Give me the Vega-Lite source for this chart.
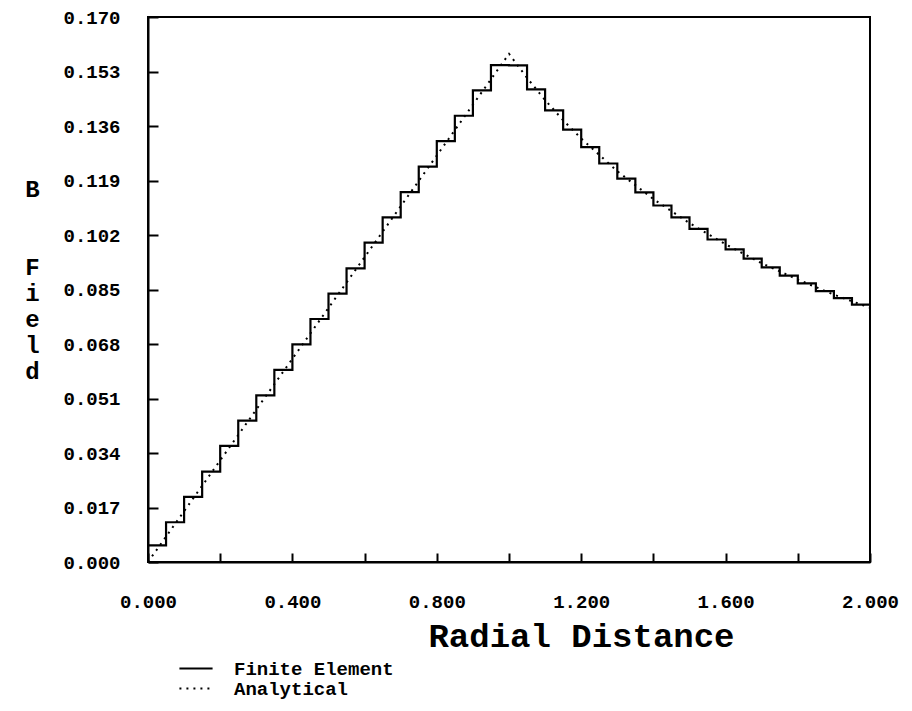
{
  "$schema": "https://vega.github.io/schema/vega-lite/v6.json",
  "width": 722,
  "height": 545,
  "autosize": {"type": "none"},
  "padding": {"left": 148, "top": 17, "right": 42, "bottom": 149},
  "background": "white",
  "config": {
    "view": {"stroke": "black", "strokeWidth": 2},
    "font": "Liberation Mono"
  },
  "datasets": {
    "fe": [
      {"series": "Finite Element", "r": 0.0, "b": 0.0052},
      {"series": "Finite Element", "r": 0.05, "b": 0.0124},
      {"series": "Finite Element", "r": 0.1, "b": 0.0203},
      {"series": "Finite Element", "r": 0.15, "b": 0.0282},
      {"series": "Finite Element", "r": 0.2, "b": 0.0362},
      {"series": "Finite Element", "r": 0.25, "b": 0.0441},
      {"series": "Finite Element", "r": 0.3, "b": 0.052},
      {"series": "Finite Element", "r": 0.35, "b": 0.0599},
      {"series": "Finite Element", "r": 0.4, "b": 0.0679},
      {"series": "Finite Element", "r": 0.45, "b": 0.0758},
      {"series": "Finite Element", "r": 0.5, "b": 0.0837},
      {"series": "Finite Element", "r": 0.55, "b": 0.0916},
      {"series": "Finite Element", "r": 0.6, "b": 0.0996},
      {"series": "Finite Element", "r": 0.65, "b": 0.1075},
      {"series": "Finite Element", "r": 0.7, "b": 0.1154},
      {"series": "Finite Element", "r": 0.75, "b": 0.1233},
      {"series": "Finite Element", "r": 0.8, "b": 0.1313},
      {"series": "Finite Element", "r": 0.85, "b": 0.1392},
      {"series": "Finite Element", "r": 0.9, "b": 0.1471},
      {"series": "Finite Element", "r": 0.95, "b": 0.155},
      {"series": "Finite Element", "r": 1.0, "b": 0.1549},
      {"series": "Finite Element", "r": 1.05, "b": 0.1474},
      {"series": "Finite Element", "r": 1.1, "b": 0.1409},
      {"series": "Finite Element", "r": 1.15, "b": 0.1349},
      {"series": "Finite Element", "r": 1.2, "b": 0.1294},
      {"series": "Finite Element", "r": 1.25, "b": 0.1243},
      {"series": "Finite Element", "r": 1.3, "b": 0.1196},
      {"series": "Finite Element", "r": 1.35, "b": 0.1153},
      {"series": "Finite Element", "r": 1.4, "b": 0.1112},
      {"series": "Finite Element", "r": 1.45, "b": 0.1075},
      {"series": "Finite Element", "r": 1.5, "b": 0.1039},
      {"series": "Finite Element", "r": 1.55, "b": 0.1006},
      {"series": "Finite Element", "r": 1.6, "b": 0.0975},
      {"series": "Finite Element", "r": 1.65, "b": 0.0946},
      {"series": "Finite Element", "r": 1.7, "b": 0.0919},
      {"series": "Finite Element", "r": 1.75, "b": 0.0893},
      {"series": "Finite Element", "r": 1.8, "b": 0.0869},
      {"series": "Finite Element", "r": 1.85, "b": 0.0845},
      {"series": "Finite Element", "r": 1.9, "b": 0.0823},
      {"series": "Finite Element", "r": 1.95, "b": 0.0803},
      {"series": "Finite Element", "r": 2.0, "b": 0.0803}
    ],
    "an": [
      {"series": "Analytical", "r": 0.0, "b": 0.0},
      {"series": "Analytical", "r": 1.0, "b": 0.1585},
      {"series": "Analytical", "r": 1.05, "b": 0.151},
      {"series": "Analytical", "r": 1.1, "b": 0.1441},
      {"series": "Analytical", "r": 1.15, "b": 0.1378},
      {"series": "Analytical", "r": 1.2, "b": 0.1321},
      {"series": "Analytical", "r": 1.3, "b": 0.1219},
      {"series": "Analytical", "r": 1.4, "b": 0.1132},
      {"series": "Analytical", "r": 1.5, "b": 0.1057},
      {"series": "Analytical", "r": 1.6, "b": 0.0991},
      {"series": "Analytical", "r": 1.7, "b": 0.0932},
      {"series": "Analytical", "r": 1.8, "b": 0.0881},
      {"series": "Analytical", "r": 1.9, "b": 0.0834},
      {"series": "Analytical", "r": 2.0, "b": 0.0793}
    ]
  },
  "encoding": {
    "x": {
      "field": "r",
      "type": "quantitative",
      "scale": {"domain": [0, 2], "nice": false, "zero": false},
      "axis": {
        "values": [0, 0.2, 0.4, 0.6, 0.8, 1.0, 1.2, 1.4, 1.6, 1.8, 2.0],
        "labelExpr": "round(datum.value * 10) % 4 == 0 ? format(datum.value, '.3f') : ''",
        "grid": false,
        "domainColor": "black",
        "domainWidth": 2,
        "tickColor": "black",
        "tickWidth": 2,
        "tickSize": -9,
        "labelFont": "Liberation Mono",
        "labelFontWeight": "bold",
        "labelFontSize": 19,
        "labelColor": "black",
        "labelPadding": 39,
        "labelFlush": false,
        "labelOverlap": false,
        "labelBound": false,
        "title": "Radial Distance",
        "titleFont": "Liberation Mono",
        "titleFontWeight": "bold",
        "titleFontSize": 34,
        "titleColor": "black",
        "titleX": 433,
        "titleY": 74,
        "titleAlign": "center",
        "titleBaseline": "middle",
        "titleAnchor": null
      }
    },
    "y": {
      "field": "b",
      "type": "quantitative",
      "scale": {"domain": [0, 0.17], "nice": false, "zero": false},
      "axis": {
        "values": [0, 0.017, 0.034, 0.051, 0.068, 0.085, 0.102, 0.119, 0.136, 0.153, 0.17],
        "format": ".3f",
        "grid": false,
        "domainColor": "black",
        "domainWidth": 2,
        "tickColor": "black",
        "tickWidth": 2,
        "tickSize": -10,
        "labelFont": "Liberation Mono",
        "labelFontWeight": "bold",
        "labelFontSize": 19,
        "labelColor": "black",
        "labelPadding": 38,
        "labelFlush": false,
        "labelOverlap": false,
        "labelBound": false,
        "title": ["B", "\u200b", "\u200b", "F", "i", "e", "l", "d"],
        "titleAngle": 0,
        "titleFont": "Liberation Mono",
        "titleFontWeight": "bold",
        "titleFontSize": 24,
        "titleLineHeight": 26,
        "titleColor": "black",
        "titleX": -116,
        "titleY": 179,
        "titleAlign": "center",
        "titleBaseline": "alphabetic",
        "titleAnchor": null
      }
    },
    "strokeDash": {
      "field": "series",
      "type": "nominal",
      "scale": {"domain": ["Finite Element", "Analytical"], "range": [[1, 0], [2, 5]]},
      "legend": {
        "orient": "none",
        "legendX": 30,
        "legendY": 642,
        "title": null,
        "symbolType": "stroke",
        "symbolStrokeColor": "black",
        "symbolStrokeWidth": 2,
        "symbolSize": 1100,
        "clipHeight": 19,
        "rowPadding": 0,
        "labelFont": "Liberation Mono",
        "labelFontWeight": "bold",
        "labelFontSize": 19,
        "labelColor": "black",
        "labelOffset": 20,
        "labelLimit": 0
      }
    },
    "color": {"value": "black"}
  },
  "layer": [
    {
      "data": {"name": "fe"},
      "mark": {"type": "line", "interpolate": "step-after", "strokeWidth": 2.2}
    },
    {
      "data": {"name": "an"},
      "mark": {"type": "line", "interpolate": "linear", "strokeWidth": 2}
    }
  ]
}
